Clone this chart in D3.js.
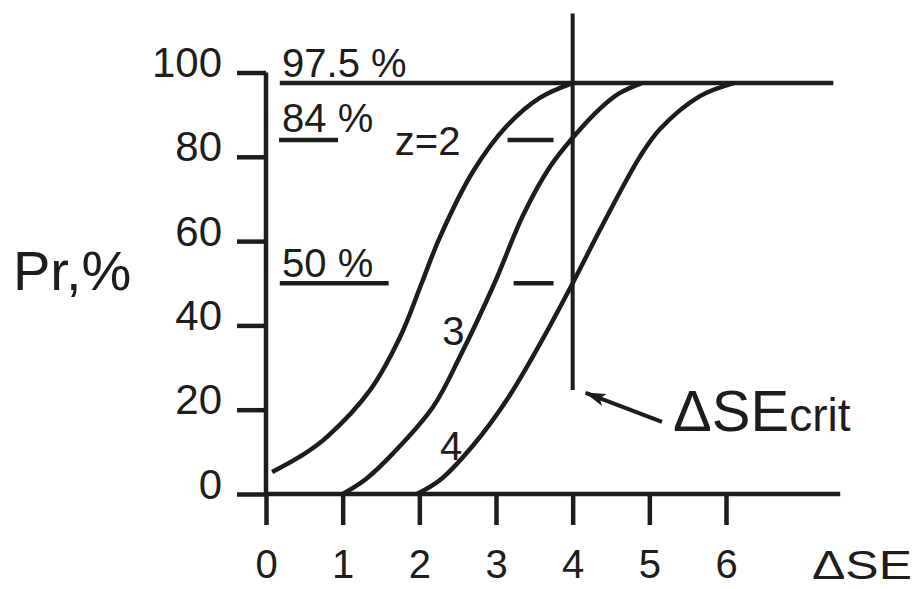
<html>
<head>
  <meta charset="UTF-8">
  <title>Pr vs ΔSE</title>
  <script src="https://cdn.jsdelivr.net/npm/d3@7/dist/d3.min.js"></script>
  <style>
    body { margin: 0; background: #fff; }
    text { font-family: "Liberation Sans", Arial, sans-serif; fill: #1d1d1b; }
  </style>
</head>
<body>
<svg width="914" height="589"></svg>
<script>
// tick values
var xTicks = [0, 1, 2, 3, 4, 5, 6];
var yTicks = [0, 20, 40, 60, 80, 100];

// curves: [ΔSE, Pr %]
var curveZ2 = [[0.08, 5.2], [0.5, 9.5], [0.8, 13.6], [1.36, 24.7], [1.75, 37.3], [2.03, 50],
               [2.27, 61], [2.7, 76.5], [3.14, 87.3], [3.57, 94], [4.0, 97.5]];
var curveZ3 = [[1.0, 0], [1.3, 3.5], [1.66, 9.7], [2.18, 20.7], [2.53, 32.6], [2.98, 50],
               [3.35, 66], [3.7, 77.5], [4.0, 84.5], [4.36, 91.5], [4.6, 95], [4.9, 97.5]];
var curveZ4 = [[1.97, 0], [2.27, 3.3], [2.7, 11.5], [3.14, 22.3], [3.57, 35.5], [4.0, 50],
               [4.36, 62.8], [4.88, 80.1], [5.14, 86.6], [5.66, 94.4], [6.1, 97.5]];

// level lines: [Pr, from ΔSE, to ΔSE]
var levelLines = [[97.5, 0.18, 7.4], [84, 0.17, 0.94], [50, 0.18, 1.6], [84, 3.15, 3.75], [50, 3.23, 3.75]];
var levelLabels = [["97.5 %", 0.21, 98.9], ["84 %", 0.21, 85.9], ["50 %", 0.21, 51.5]];
var curveLabels = [["z=2", 1.68, 80.4], ["3", 2.3, 35.3], ["4", 2.27, 8.1]];
var critX = 4;
var critRange = [114, 24.7];
var arrowFrom = [5.165, 17.1];
var arrowTo = [4.17, 24.0];

var svg = d3.select("svg");
var ink = "#1d1d1b";
var lw = 4.5;

var x = d3.scaleLinear().domain([0, 6]).range([266, 726]);
var y = d3.scaleLinear().domain([0, 100]).range([494, 72.5]);

svg.append("defs").append("marker")
    .attr("id", "head")
    .attr("markerUnits", "userSpaceOnUse")
    .attr("markerWidth", 26).attr("markerHeight", 20)
    .attr("viewBox", "-2 -10 26 20")
    .attr("refX", 20).attr("refY", 0)
    .attr("orient", "auto")
    .append("path")
    .attr("d", "M0,-6.5 L21,0 L0,6.5 L5,0 Z")
    .attr("fill", ink);

// axes
var yAxis = svg.append("g")
    .attr("transform", "translate(" + x(0) + ",0)")
    .call(d3.axisLeft(y).tickValues(yTicks).tickSize(29).tickPadding(15));
yAxis.select(".domain").remove();
yAxis.selectAll("line").attr("stroke", ink).attr("stroke-width", lw);
yAxis.selectAll("text").attr("font-size", 42).attr("dy", "4px").style("font-family", "Liberation Sans, Arial, sans-serif").attr("fill", ink);

var xAxis = svg.append("g")
    .attr("transform", "translate(0," + y(0) + ")")
    .call(d3.axisBottom(x).tickValues(xTicks).tickFormat(d3.format("d")).tickSize(31).tickPadding(25));
xAxis.select(".domain").remove();
xAxis.selectAll("line").attr("stroke", ink).attr("stroke-width", lw);
xAxis.selectAll("text").attr("font-size", 40).style("font-family", "Liberation Sans, Arial, sans-serif").attr("fill", ink);

svg.append("line")
    .attr("x1", x(0)).attr("x2", x(0))
    .attr("y1", y(100)).attr("y2", y(0))
    .attr("stroke", ink).attr("stroke-width", lw);
svg.append("line")
    .attr("x1", x(0)).attr("x2", x(7.49))
    .attr("y1", y(0)).attr("y2", y(0))
    .attr("stroke", ink).attr("stroke-width", lw);

// level lines
svg.selectAll(".level").data(levelLines).enter().append("line")
    .attr("x1", function(d) { return x(d[1]); })
    .attr("x2", function(d) { return x(d[2]); })
    .attr("y1", function(d) { return y(d[0]); })
    .attr("y2", function(d) { return y(d[0]); })
    .attr("stroke", ink).attr("stroke-width", lw);

svg.selectAll(".lvlLabel").data(levelLabels).enter().append("text")
    .attr("x", function(d) { return x(d[1]); })
    .attr("y", function(d) { return y(d[2]); })
    .attr("font-size", 40)
    .text(function(d) { return d[0]; });

// curves
var line = d3.line()
    .x(function(d) { return x(d[0]); })
    .y(function(d) { return y(d[1]); })
    .curve(d3.curveCatmullRom.alpha(0.5));

svg.selectAll(".curve").data([curveZ2, curveZ3, curveZ4]).enter().append("path")
    .attr("d", line)
    .attr("fill", "none")
    .attr("stroke", ink).attr("stroke-width", lw);

svg.selectAll(".cLabel").data(curveLabels).enter().append("text")
    .attr("x", function(d) { return x(d[1]); })
    .attr("y", function(d) { return y(d[2]); })
    .attr("font-size", 40)
    .text(function(d) { return d[0]; });

// critical line and arrow
svg.append("line")
    .attr("x1", x(critX)).attr("x2", x(critX))
    .attr("y1", y(critRange[0])).attr("y2", y(critRange[1]))
    .attr("stroke", ink).attr("stroke-width", 4);

svg.append("line")
    .attr("x1", x(arrowFrom[0])).attr("y1", y(arrowFrom[1]))
    .attr("x2", x(arrowTo[0])).attr("y2", y(arrowTo[1]))
    .attr("stroke", ink).attr("stroke-width", 4)
    .attr("marker-end", "url(#head)");

var crit = svg.append("text")
    .attr("x", 673).attr("y", 431)
    .attr("font-size", 58);
crit.append("tspan").text("ΔSE");
crit.append("tspan").attr("font-size", 46).text("crit");

// axis titles
svg.append("text")
    .attr("x", 13).attr("y", 290)
    .attr("font-size", 56)
    .text("Pr,%");

svg.append("text")
    .attr("x", 812).attr("y", 579)
    .attr("font-size", 40)
    .attr("textLength", 100).attr("lengthAdjust", "spacingAndGlyphs")
    .text("ΔSE");
</script>
</body>
</html>
